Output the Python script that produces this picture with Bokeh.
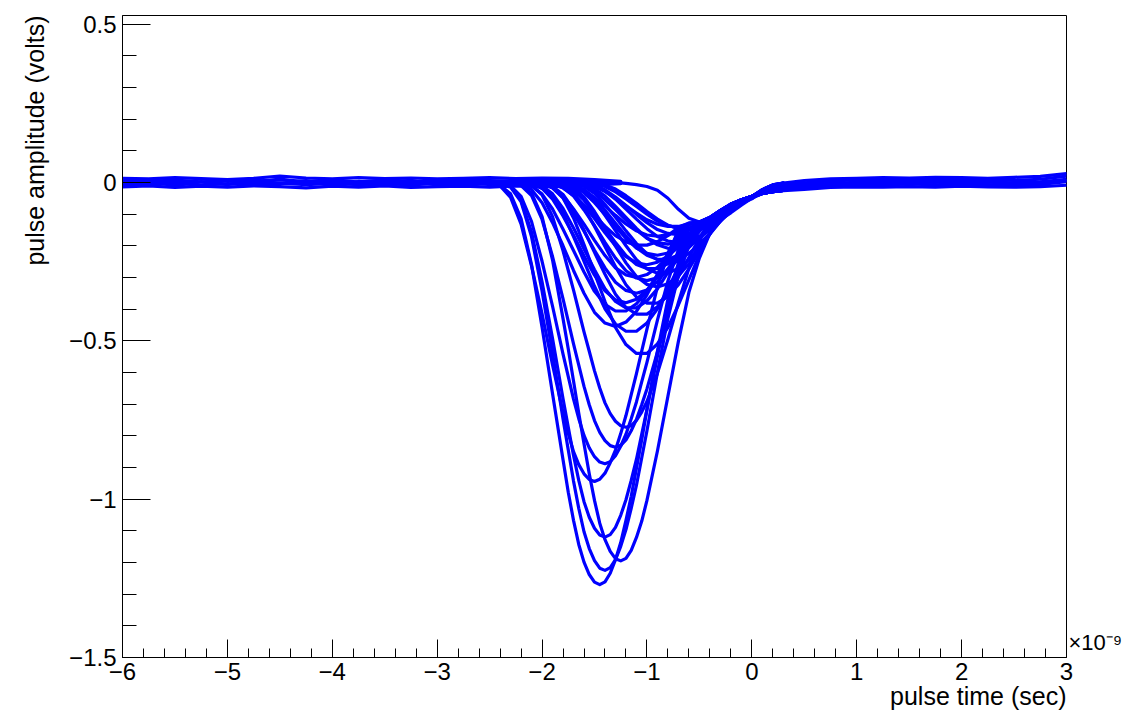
from bokeh.plotting import figure
from bokeh.models import FixedTicker, CustomJSTickFormatter, LinearAxis, Title
from bokeh.embed import file_html
from bokeh.resources import INLINE

# ---------------- data (time in units of 1e-9 s, amplitude in volts) ----------------
# large pulses, read on a finer time grid around their minimum
t_big = [-2.5, -2.4, -2.3, -2.2, -2.1, -2.0, -1.9, -1.8,
         -1.75, -1.7, -1.65, -1.6, -1.55, -1.5, -1.45, -1.4, -1.35, -1.3, -1.25, -1.2, -1.15, -1.1, -1.05, -1.0,
         -0.9, -0.8, -0.7, -0.6, -0.5, -0.4, -0.3, -0.2, -0.1, 0.0, 0.1, 0.2, 0.3]
big_01 = [-0.001, -0.009, -0.036, -0.114, -0.260, -0.457, -0.667, -0.876, -0.978, -1.067, -1.143, -1.199, -1.238, -1.262, -1.270, -1.261, -1.234, -1.191, -1.137, -1.067, -0.991, -0.902, -0.813, -0.718, -0.533, -0.368, -0.254, -0.172, -0.128, -0.112, -0.090, -0.070, -0.057, -0.046, -0.024, -0.009, -0.003]
big_02 = [0.0, -0.004, -0.015, -0.061, -0.172, -0.343, -0.539, -0.747, -0.845, -0.943, -1.029, -1.103, -1.156, -1.194, -1.218, -1.225, -1.216, -1.191, -1.149, -1.096, -1.029, -0.956, -0.870, -0.784, -0.600, -0.429, -0.294, -0.196, -0.135, -0.115, -0.093, -0.072, -0.058, -0.047, -0.024, -0.009, -0.003]
big_03 = [0.0, 0.0, -0.001, -0.008, -0.034, -0.108, -0.245, -0.430, -0.526, -0.627, -0.729, -0.825, -0.920, -1.004, -1.076, -1.128, -1.165, -1.188, -1.195, -1.187, -1.162, -1.121, -1.070, -1.004, -0.848, -0.675, -0.502, -0.347, -0.239, -0.161, -0.114, -0.086, -0.066, -0.052, -0.026, -0.010, -0.004]
big_04 = [0.0, -0.003, -0.013, -0.056, -0.157, -0.314, -0.493, -0.683, -0.773, -0.862, -0.941, -1.008, -1.057, -1.092, -1.113, -1.120, -1.112, -1.089, -1.051, -1.002, -0.941, -0.874, -0.795, -0.717, -0.549, -0.392, -0.269, -0.179, -0.130, -0.113, -0.091, -0.071, -0.057, -0.046, -0.023, -0.008, -0.002]
big_05 = [-0.003, -0.011, -0.047, -0.132, -0.264, -0.415, -0.576, -0.727, -0.793, -0.850, -0.891, -0.920, -0.938, -0.944, -0.937, -0.918, -0.885, -0.845, -0.793, -0.736, -0.670, -0.604, -0.533, -0.463, -0.330, -0.227, -0.151, -0.132, -0.126, -0.111, -0.089, -0.069, -0.056, -0.045, -0.023, -0.008, -0.002]
big_06 = [0.0, -0.003, -0.011, -0.044, -0.124, -0.249, -0.391, -0.542, -0.613, -0.684, -0.746, -0.799, -0.838, -0.866, -0.883, -0.888, -0.882, -0.863, -0.833, -0.795, -0.746, -0.693, -0.630, -0.568, -0.435, -0.311, -0.213, -0.145, -0.130, -0.113, -0.090, -0.070, -0.056, -0.045, -0.023, -0.008, -0.002]
big_07 = [0.0, 0.0, -0.003, -0.010, -0.042, -0.117, -0.234, -0.368, -0.439, -0.510, -0.577, -0.644, -0.702, -0.752, -0.789, -0.815, -0.831, -0.836, -0.830, -0.813, -0.784, -0.748, -0.702, -0.652, -0.535, -0.410, -0.293, -0.201, -0.134, -0.115, -0.092, -0.072, -0.057, -0.046, -0.024, -0.009, -0.003]
big_08 = [0.0, 0.0, 0.0, -0.002, -0.009, -0.039, -0.108, -0.216, -0.278, -0.340, -0.406, -0.472, -0.533, -0.595, -0.649, -0.696, -0.730, -0.754, -0.768, -0.773, -0.768, -0.751, -0.725, -0.692, -0.603, -0.495, -0.379, -0.271, -0.186, -0.124, -0.095, -0.074, -0.058, -0.047, -0.025, -0.010, -0.004]
bigs = [big_01, big_02, big_03, big_04, big_05, big_06, big_07, big_08]

# smaller pulses
t_pulse = [-2.5, -2.4, -2.3, -2.2, -2.1, -2.0, -1.9, -1.8, -1.7, -1.6, -1.5, -1.4, -1.3, -1.2, -1.1,
           -1.0, -0.9, -0.8, -0.7, -0.6, -0.5, -0.4, -0.3, -0.2, -0.1, 0.0, 0.1, 0.2, 0.3]
wave_09 = [0.0, 0.0, 0.0, 0.0, -0.001, -0.004, -0.015, -0.049, -0.112, -0.196, -0.286, -0.376, -0.458, -0.512, -0.540, -0.540, -0.510, -0.458, -0.387, -0.308, -0.229, -0.158, -0.109, -0.074, -0.057, -0.046, -0.027, -0.013, -0.006]
wave_10 = [0.0, 0.0, -0.001, -0.005, -0.023, -0.064, -0.127, -0.200, -0.278, -0.350, -0.410, -0.444, -0.455, -0.441, -0.407, -0.355, -0.291, -0.223, -0.160, -0.130, -0.126, -0.112, -0.090, -0.070, -0.056, -0.045, -0.031, -0.020, -0.013]
wave_11 = [0.0, 0.0, 0.0, 0.0, -0.003, -0.013, -0.043, -0.097, -0.171, -0.249, -0.328, -0.399, -0.447, -0.470, -0.470, -0.444, -0.399, -0.337, -0.268, -0.200, -0.138, -0.112, -0.090, -0.070, -0.056, -0.045, -0.035, -0.029, -0.025]
wave_12 = [0.0, 0.0, 0.0, -0.003, -0.011, -0.037, -0.084, -0.148, -0.215, -0.283, -0.344, -0.385, -0.406, -0.406, -0.383, -0.344, -0.291, -0.232, -0.172, -0.130, -0.125, -0.112, -0.089, -0.069, -0.055, -0.044, -0.027, -0.013, -0.006]
wave_13 = [0.0, 0.0, 0.0, 0.0, 0.0, -0.003, -0.012, -0.038, -0.086, -0.151, -0.221, -0.290, -0.353, -0.395, -0.416, -0.416, -0.393, -0.353, -0.298, -0.237, -0.176, -0.122, -0.092, -0.071, -0.056, -0.045, -0.031, -0.020, -0.013]
wave_14 = [0.0, 0.0, 0.0, 0.0, 0.0, 0.0, -0.003, -0.011, -0.035, -0.079, -0.139, -0.202, -0.266, -0.323, -0.362, -0.381, -0.381, -0.360, -0.323, -0.273, -0.218, -0.162, -0.112, -0.077, -0.058, -0.047, -0.035, -0.029, -0.025]
wave_15 = [0.0, 0.0, 0.0, -0.001, -0.005, -0.019, -0.053, -0.106, -0.167, -0.232, -0.293, -0.342, -0.371, -0.380, -0.369, -0.340, -0.296, -0.243, -0.186, -0.133, -0.126, -0.111, -0.089, -0.069, -0.055, -0.044, -0.027, -0.013, -0.006]
wave_16 = [0.0, 0.0, 0.0, 0.0, -0.001, -0.004, -0.018, -0.049, -0.098, -0.154, -0.214, -0.270, -0.315, -0.341, -0.350, -0.340, -0.313, -0.273, -0.224, -0.172, -0.130, -0.112, -0.090, -0.070, -0.056, -0.045, -0.031, -0.020, -0.013]
wave_17 = [0.0, 0.0, 0.0, 0.0, 0.0, -0.001, -0.004, -0.016, -0.043, -0.087, -0.136, -0.189, -0.239, -0.279, -0.302, -0.310, -0.301, -0.277, -0.242, -0.198, -0.152, -0.115, -0.090, -0.070, -0.056, -0.045, -0.035, -0.029, -0.025]
wave_18 = [0.0, 0.0, 0.0, 0.0, 0.0, 0.0, -0.002, -0.008, -0.025, -0.056, -0.099, -0.144, -0.190, -0.231, -0.259, -0.272, -0.272, -0.257, -0.231, -0.195, -0.155, -0.120, -0.093, -0.071, -0.056, -0.045, -0.031, -0.020, -0.013]
wave_19 = [0.0, 0.0, 0.0, 0.0, 0.0, 0.0, 0.0, -0.002, -0.007, -0.022, -0.050, -0.088, -0.129, -0.169, -0.206, -0.230, -0.243, -0.243, -0.229, -0.206, -0.174, -0.138, -0.103, -0.074, -0.057, -0.046, -0.027, -0.013, -0.006]
wave_20 = [0.0, 0.0, 0.0, 0.0, 0.0, 0.0, 0.0, -0.001, -0.002, -0.010, -0.027, -0.055, -0.086, -0.119, -0.150, -0.176, -0.190, -0.195, -0.189, -0.175, -0.152, -0.125, -0.096, -0.072, -0.056, -0.045, -0.035, -0.029, -0.025]
wave_21 = [0.0, 0.0, 0.0, 0.0, 0.0, 0.0, -0.001, -0.004, -0.017, -0.046, -0.092, -0.145, -0.201, -0.254, -0.297, -0.322, -0.330, -0.320, -0.295, -0.257, -0.211, -0.162, -0.116, -0.079, -0.058, -0.047, -0.031, -0.020, -0.013]
wave_22 = [0.0, 0.0, 0.0, 0.0, 0.0, 0.0, 0.0, 0.0, 0.0, -0.002, -0.008, -0.023, -0.046, -0.073, -0.101, -0.127, -0.149, -0.161, -0.165, -0.160, -0.148, -0.129, -0.106, -0.081, -0.058, -0.045, -0.027, -0.013, -0.006]
wave_23 = [0.0, 0.0, 0.0, 0.0, 0.0, 0.0, 0.0, -0.002, -0.008, -0.026, -0.059, -0.104, -0.152, -0.200, -0.244, -0.273, -0.287, -0.287, -0.271, -0.244, -0.206, -0.164, -0.122, -0.084, -0.058, -0.047, -0.035, -0.029, -0.025]
wave_24 = [0.0, 0.0, 0.0, 0.0, 0.0, 0.0, 0.0, 0.0, 0.0, -0.001, -0.004, -0.013, -0.030, -0.052, -0.076, -0.100, -0.122, -0.136, -0.144, -0.144, -0.136, -0.122, -0.103, -0.082, -0.061, -0.046, -0.031, -0.020, -0.013]
wave_25 = [0.0, 0.0, 0.0, 0.0, 0.0, -0.001, -0.003, -0.013, -0.036, -0.073, -0.114, -0.159, -0.200, -0.234, -0.254, -0.260, -0.252, -0.233, -0.203, -0.166, -0.130, -0.112, -0.089, -0.069, -0.055, -0.044, -0.027, -0.013, -0.006]
wave_26 = [0.0, 0.0, 0.0, 0.0, 0.0, 0.0, 0.0, 0.0, -0.001, -0.006, -0.019, -0.043, -0.076, -0.110, -0.145, -0.176, -0.197, -0.208, -0.208, -0.196, -0.176, -0.149, -0.119, -0.088, -0.061, -0.046, -0.035, -0.029, -0.025]
wave_27 = [0.0, 0.0, 0.0, 0.0, 0.0, 0.0, -0.001, -0.003, -0.012, -0.032, -0.064, -0.101, -0.140, -0.177, -0.207, -0.224, -0.230, -0.223, -0.206, -0.179, -0.147, -0.115, -0.090, -0.070, -0.056, -0.045, -0.031, -0.020, -0.013]
wave_28 = [0.0, 0.0, 0.0, 0.0, -0.001, -0.004, -0.015, -0.042, -0.084, -0.132, -0.183, -0.231, -0.270, -0.292, -0.300, -0.291, -0.268, -0.234, -0.192, -0.147, -0.127, -0.111, -0.089, -0.069, -0.055, -0.044, -0.027, -0.013, -0.006]
wave_29 = [0.0, 0.0, 0.0, 0.0, 0.0, 0.0, 0.0, -0.001, -0.003, -0.013, -0.035, -0.070, -0.110, -0.153, -0.193, -0.225, -0.244, -0.250, -0.243, -0.224, -0.195, -0.160, -0.123, -0.088, -0.060, -0.047, -0.035, -0.029, -0.025]
wave_30 = [0.0, 0.0, 0.0, 0.0, 0.0, 0.0, 0.0, 0.0, 0.0, -0.002, -0.009, -0.027, -0.053, -0.084, -0.116, -0.146, -0.171, -0.185, -0.190, -0.184, -0.170, -0.148, -0.122, -0.093, -0.064, -0.047, -0.031, -0.020, -0.013]
wave_31 = [0.0, 0.0, 0.0, 0.0, -0.003, -0.011, -0.036, -0.082, -0.144, -0.210, -0.276, -0.336, -0.376, -0.396, -0.396, -0.374, -0.336, -0.284, -0.226, -0.168, -0.130, -0.112, -0.090, -0.070, -0.056, -0.045, -0.027, -0.013, -0.006]
wave_32 = [0.0, 0.0, 0.0, 0.0, 0.0, 0.0, 0.0, 0.0, 0.0, 0.0, -0.002, -0.008, -0.021, -0.042, -0.066, -0.092, -0.116, -0.135, -0.146, -0.150, -0.146, -0.134, -0.117, -0.096, -0.072, -0.050, -0.035, -0.029, -0.025]
wave_33 = [0.0, 0.0, 0.0, 0.0, 0.0, 0.0, 0.0, 0.0, -0.001, -0.004, -0.013, -0.029, -0.050, -0.074, -0.097, -0.118, -0.132, -0.139, -0.139, -0.131, -0.128, -0.113, -0.091, -0.070, -0.056, -0.045, -0.031, -0.020, -0.013]
wave_34 = [0.0, 0.0, 0.0, 0.0, 0.0, 0.0, -0.001, -0.002, -0.009, -0.024, -0.048, -0.075, -0.104, -0.131, -0.153, -0.166, -0.170, -0.165, -0.152, -0.133, -0.127, -0.112, -0.090, -0.070, -0.055, -0.044, -0.027, -0.013, -0.006]
wave_35 = [0.0, 0.0, 0.0, 0.0, 0.0, -0.001, -0.006, -0.018, -0.041, -0.072, -0.105, -0.138, -0.168, -0.188, -0.198, -0.198, -0.187, -0.168, -0.142, -0.128, -0.126, -0.111, -0.089, -0.069, -0.055, -0.044, -0.035, -0.029, -0.025]
wave_36 = [0.0, 0.0, 0.0, 0.0, 0.0, 0.0, 0.0, 0.0, 0.0, 0.0, 0.0, 0.0, 0.0, -0.003, -0.007, -0.013, -0.025, -0.050, -0.085, -0.113, -0.125, -0.110, -0.088, -0.068, -0.055, -0.044, -0.024, -0.009, -0.002]
waves = [wave_09, wave_10, wave_11, wave_12, wave_13, wave_14, wave_15, wave_16, wave_17,
         wave_18, wave_19, wave_20, wave_21, wave_22, wave_23, wave_24, wave_25, wave_26,
         wave_27, wave_28, wave_29, wave_30, wave_31, wave_32, wave_33, wave_34, wave_35, wave_36]

# baseline noise before and after the pulses
t_base_left = [-6.0, -5.75, -5.5, -5.25, -5.0, -4.75, -4.5, -4.25, -4.0, -3.75,
               -3.5, -3.25, -3.0, -2.75, -2.5, -2.25, -2.0, -1.75, -1.5, -1.25]
base_left_1 = [0.013, 0.011, 0.015, 0.012, 0.009, 0.013, 0.020, 0.014, 0.011, 0.015, 0.012, 0.014, 0.011, 0.013, 0.015, 0.012, 0.014, 0.013, 0.009, 0.003]
base_left_2 = [0.006, 0.003, 0.007, 0.002, 0.006, 0.004, 0.008, 0.003, 0.006, 0.002, 0.007, 0.004, 0.003, 0.007, 0.006, 0.004, 0.008, 0.006, 0.003, 0.001]
base_left_3 = [-0.004, -0.007, -0.003, -0.008, -0.004, -0.006, -0.002, -0.007, -0.003, -0.006, -0.004, -0.008, -0.003, -0.006, -0.004, -0.003, -0.006, -0.004, -0.002, -0.002]
base_left_4 = [-0.014, -0.011, -0.016, -0.012, -0.015, -0.011, -0.013, -0.017, -0.012, -0.015, -0.011, -0.016, -0.013, -0.012, -0.015, -0.011, -0.013, -0.012, -0.008, -0.004]
base_left_5 = [0.009, -0.006, 0.003, -0.010, 0.007, -0.003, 0.011, -0.004, 0.006, -0.009, 0.004, -0.002, 0.009, -0.007, 0.003, -0.006, 0.007, -0.003, 0.004, 0.000]
base_left_6 = [-0.009, 0.004, -0.011, 0.003, -0.007, 0.009, -0.004, 0.006, -0.010, 0.003, -0.006, 0.007, -0.009, 0.004, -0.007, 0.006, -0.004, 0.003, -0.005, -0.002]
bases_left = [base_left_1, base_left_2, base_left_3, base_left_4, base_left_5, base_left_6]

t_base_right = [0.3, 0.5, 0.75, 1.0, 1.25, 1.5, 1.75, 2.0, 2.25, 2.5, 2.75, 3.0]
base_right_1 = [-0.002, 0.006, 0.011, 0.013, 0.015, 0.014, 0.016, 0.015, 0.013, 0.016, 0.019, 0.028]
base_right_2 = [-0.006, -0.001, 0.005, 0.008, 0.006, 0.009, 0.007, 0.010, 0.008, 0.006, 0.010, 0.020]
base_right_3 = [-0.012, -0.008, -0.003, 0.000, -0.002, 0.002, 0.000, 0.003, 0.001, -0.001, 0.002, 0.010]
base_right_4 = [-0.019, -0.016, -0.011, -0.007, -0.009, -0.005, -0.008, -0.004, -0.007, -0.009, -0.006, 0.002]
base_right_5 = [-0.026, -0.022, -0.016, -0.014, -0.015, -0.013, -0.015, -0.012, -0.014, -0.015, -0.013, -0.009]
base_right_6 = [-0.010, -0.013, -0.006, -0.004, 0.003, -0.007, 0.005, -0.006, 0.004, -0.011, -0.003, 0.006]
bases_right = [base_right_1, base_right_2, base_right_3, base_right_4, base_right_5, base_right_6]

x_major_ticks = [-6, -5, -4, -3, -2, -1, 0, 1, 2, 3]
y_major_ticks = [-1.5, -1.0, -0.5, 0.0, 0.5]

x_title = "pulse time (sec)"
y_title = "pulse amplitude (volts)"
x_exponent = "\u00d710\u207b\u2079"

# ---------------- figure ----------------
BLUE = "#0000ff"
FONT = "Liberation Sans"
NBSP = "\u00a0"

p = figure(width=1126, height=714, x_range=(-6, 3), y_range=(-1.5, 0.527),
           output_backend="svg", toolbar_location=None,
           min_border_left=122, min_border_right=60, min_border_top=15, min_border_bottom=57)
p.xgrid.visible = False
p.ygrid.visible = False
p.background_fill_color = "white"
p.border_fill_color = "white"
p.outline_line_color = "black"
p.outline_line_width = 1
p.outline_line_alpha = 1.0

LW = 3.2
for b in bases_left:
    p.line(t_base_left, b, line_color=BLUE, line_width=LW, line_join="round", line_cap="round")
for b in bases_right:
    p.line(t_base_right, b, line_color=BLUE, line_width=LW, line_join="round", line_cap="round")
for w in waves:
    p.line(t_pulse, w, line_color=BLUE, line_width=LW, line_join="round", line_cap="round")
for w in bigs:
    p.line(t_big, w, line_color=BLUE, line_width=LW, line_join="round", line_cap="round")

x_minor = [round(-6 + 0.2 * i, 1) for i in range(46) if i % 5 != 0]
y_minor = [round(-1.5 + 0.1 * i, 1) for i in range(21) if i % 5 != 0]
p.xaxis.ticker = FixedTicker(ticks=x_major_ticks, minor_ticks=x_minor)
p.yaxis.ticker = FixedTicker(ticks=y_major_ticks, minor_ticks=y_minor)

fmt_code = "return String(tick).replace('-', '\\u2212');"
p.xaxis.formatter = CustomJSTickFormatter(code=fmt_code)
p.yaxis.formatter = CustomJSTickFormatter(code=fmt_code)

for ax in (p.xaxis[0], p.yaxis[0]):
    ax.axis_line_color = "black"
    ax.major_tick_line_color = "black"
    ax.minor_tick_line_color = "black"
    ax.major_tick_out = 0
    ax.minor_tick_out = 0
    ax.major_label_text_font = FONT
    ax.major_label_text_font_size = "24px"
    ax.major_label_text_color = "black"

p.xaxis.major_tick_in = 18
p.xaxis.minor_tick_in = 9
p.xaxis.major_label_standoff = 5
p.yaxis.major_tick_in = 28
p.yaxis.minor_tick_in = 14
p.yaxis.major_label_standoff = 6

# axis titles right-aligned to the far end of each axis
p.add_layout(Title(text=x_title, align="right", text_font=FONT, text_font_size="25px",
                   text_font_style="normal", text_color="black", standoff=-6), "below")
p.add_layout(Title(text=y_title, align="right", text_font=FONT, text_font_size="25px",
                   text_font_style="normal", text_color="black", standoff=36), "left")

rax = LinearAxis(ticker=FixedTicker(ticks=[]), axis_label=x_exponent + "\n" + NBSP,
                 axis_label_orientation="horizontal", axis_label_align="start",
                 axis_line_color=None, major_tick_line_color=None, minor_tick_line_color=None,
                 major_label_text_font_size="0px", axis_label_standoff=2,
                 axis_label_text_font=FONT, axis_label_text_font_size="22px",
                 axis_label_text_font_style="normal", axis_label_text_color="black")
p.add_layout(rax, "right")

with open("out.html", "w", encoding="utf-8") as f:
    f.write(file_html(p, INLINE))
